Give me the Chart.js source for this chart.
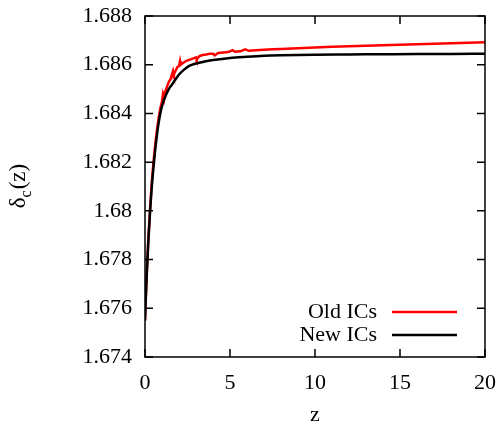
<!DOCTYPE html>
<html>
  <head>
    <title>delta_c(z)</title>
    <script src="https://cdn.jsdelivr.net/npm/chart.js"></script>
    <style>
      body { margin: 0; background: #fff; }
    </style>
  </head>
  <body>
    <canvas id="chart" width="502" height="426"></canvas>
    <script>
// New ICs (black)
const newZ = [0, 0.05, 0.1, 0.15, 0.2, 0.3, 0.4, 0.5, 0.6, 0.7, 0.8, 0.9, 1.0, 1.2, 1.4, 1.6, 1.8, 2.0, 2.3, 2.6, 3.0, 3.5, 4, 5, 6, 7, 8, 10, 12, 14, 16, 18, 20];
const newDelta = [1.6755, 1.6765, 1.6773, 1.6781, 1.6788, 1.6800, 1.6810, 1.6818, 1.6825, 1.6831, 1.6836, 1.6840, 1.6843, 1.6847, 1.6850, 1.6852, 1.6854, 1.6856, 1.6858, 1.68595, 1.68605, 1.68613, 1.68619, 1.68628, 1.68633, 1.68637, 1.68639, 1.68641, 1.68642, 1.68643, 1.68644, 1.68644, 1.68645];

// Old ICs (red, noisy)
const oldZ = [0, 0.1, 0.2, 0.3, 0.4, 0.5, 0.6, 0.7, 0.8, 0.9, 1.0, 1.06, 1.1, 1.2, 1.3, 1.4, 1.5, 1.65, 1.7, 1.8, 1.9, 2.0, 2.06, 2.1, 2.2, 2.4, 2.6, 2.8, 3.0, 3.04, 3.2, 3.4, 3.6, 3.8, 4.0, 4.1, 4.3, 4.6, 4.9, 5.15, 5.3, 5.6, 5.9, 6.1, 6.5, 7, 7.5, 8, 9, 10, 11, 12, 13, 14, 15, 16, 17, 18, 19, 20];
const oldDelta = [1.6755, 1.6774, 1.6789, 1.6801, 1.6812, 1.6820, 1.6827, 1.6833, 1.6838, 1.6842, 1.6845, 1.6848, 1.6847, 1.6849, 1.6851, 1.6853, 1.6854, 1.68575, 1.6856, 1.68575, 1.6859, 1.68595, 1.68615, 1.6860, 1.68605, 1.68615, 1.6862, 1.68625, 1.6863, 1.68622, 1.68635, 1.6864, 1.68642, 1.68645, 1.68645, 1.68638, 1.68648, 1.6865, 1.68652, 1.6866, 1.68653, 1.68655, 1.68663, 1.68657, 1.68659, 1.68661, 1.68663, 1.68665, 1.68668, 1.68671, 1.68674, 1.68676, 1.68678, 1.6868, 1.68682, 1.68684, 1.68686, 1.68688, 1.6869, 1.68692];

const xTicks = [0, 5, 10, 15, 20];
const yTicks = [1.674, 1.676, 1.678, 1.68, 1.682, 1.684, 1.686, 1.688];

const FONT = '"Liberation Serif", "DejaVu Serif", serif';

// gnuplot style frame: border + inward ticks on all four sides, legend, axis titles
const gnuplotFrame = {
  id: 'gnuplotFrame',
  afterDraw(chart) {
    const ctx = chart.ctx;
    const a = chart.chartArea;
    const xs = chart.scales.x, ys = chart.scales.y;
    ctx.save();
    ctx.strokeStyle = '#000';
    ctx.lineWidth = 1.5;
    ctx.strokeRect(a.left, a.top, a.right - a.left, a.bottom - a.top);
    ctx.beginPath();
    const tl = 8;
    xTicks.forEach(v => {
      const px = xs.getPixelForValue(v);
      ctx.moveTo(px, a.bottom); ctx.lineTo(px, a.bottom - tl);
      ctx.moveTo(px, a.top); ctx.lineTo(px, a.top + tl);
    });
    yTicks.forEach(v => {
      const py = ys.getPixelForValue(v);
      ctx.moveTo(a.left, py); ctx.lineTo(a.left + tl, py);
      ctx.moveTo(a.right, py); ctx.lineTo(a.right - tl, py);
    });
    ctx.stroke();

    // legend
    ctx.font = '22px ' + FONT;
    ctx.fillStyle = '#000';
    ctx.textAlign = 'right';
    ctx.textBaseline = 'middle';
    chart.data.datasets.forEach((ds, i) => {
      const y = 312 + i * 23;
      ctx.fillText(ds.label, 377, y);
      ctx.strokeStyle = ds.borderColor;
      ctx.lineWidth = 2.5;
      ctx.beginPath();
      ctx.moveTo(392, y); ctx.lineTo(457, y);
      ctx.stroke();
    });

    // x title
    ctx.textAlign = 'center';
    ctx.textBaseline = 'alphabetic';
    ctx.fillText('z', (a.left + a.right) / 2, 421);

    // y title, rotated, with subscript
    ctx.translate(25, (a.top + a.bottom) / 2);
    ctx.rotate(-Math.PI / 2);
    ctx.font = '23px ' + FONT;
    const w1 = ctx.measureText('δ').width;
    ctx.font = '16px ' + FONT;
    const w2 = ctx.measureText('c').width;
    ctx.font = '23px ' + FONT;
    const w3 = ctx.measureText('(z)').width;
    let x0 = -(w1 + w2 + w3) / 2;
    ctx.textAlign = 'left';
    ctx.fillText('δ', x0, 0);
    ctx.font = '16px ' + FONT;
    ctx.fillText('c', x0 + w1, 6);
    ctx.font = '23px ' + FONT;
    ctx.fillText('(z)', x0 + w1 + w2 + 1, 0);
    ctx.restore();
  }
};

new Chart(document.getElementById('chart'), {
  type: 'scatter',
  data: {
    datasets: [
      {
        label: 'Old ICs',
        data: oldZ.map((z, i) => ({ x: z, y: oldDelta[i] })),
        showLine: true,
        borderColor: '#ff0000',
        borderWidth: 2.5,
        pointRadius: 0,
        tension: 0,
        order: 1
      },
      {
        label: 'New ICs',
        data: newZ.map((z, i) => ({ x: z, y: newDelta[i] })),
        showLine: true,
        borderColor: '#000000',
        borderWidth: 2.5,
        pointRadius: 0,
        cubicInterpolationMode: 'monotone',
        order: 0
      }
    ]
  },
  options: {
    responsive: false,
    animation: false,
    layout: { padding: { top: 16, right: 17, left: 0, bottom: 0 } },
    plugins: { legend: { display: false }, tooltip: { enabled: false } },
    scales: {
      x: {
        type: 'linear',
        min: 0, max: 20,
        afterFit: s => { s.height = 69; s.paddingLeft = 0; s.paddingRight = 0; },
        afterBuildTicks: s => { s.ticks = xTicks.map(v => ({ value: v })); },
        grid: { display: false, drawTicks: false },
        border: { display: false },
        ticks: { color: '#000', font: { family: FONT, size: 22 }, padding: 13, maxRotation: 0 }
      },
      y: {
        type: 'linear',
        min: 1.674, max: 1.688,
        afterFit: s => { s.width = 145; s.paddingTop = 0; s.paddingBottom = 0; },
        afterBuildTicks: s => { s.ticks = yTicks.map(v => ({ value: v })); },
        grid: { display: false, drawTicks: false },
        border: { display: false },
        ticks: {
          color: '#000', font: { family: FONT, size: 22 }, padding: 13,
          callback: v => String(Number(v.toFixed(3)))
        }
      }
    }
  },
  plugins: [gnuplotFrame]
});
    </script>
  </body>
</html>
